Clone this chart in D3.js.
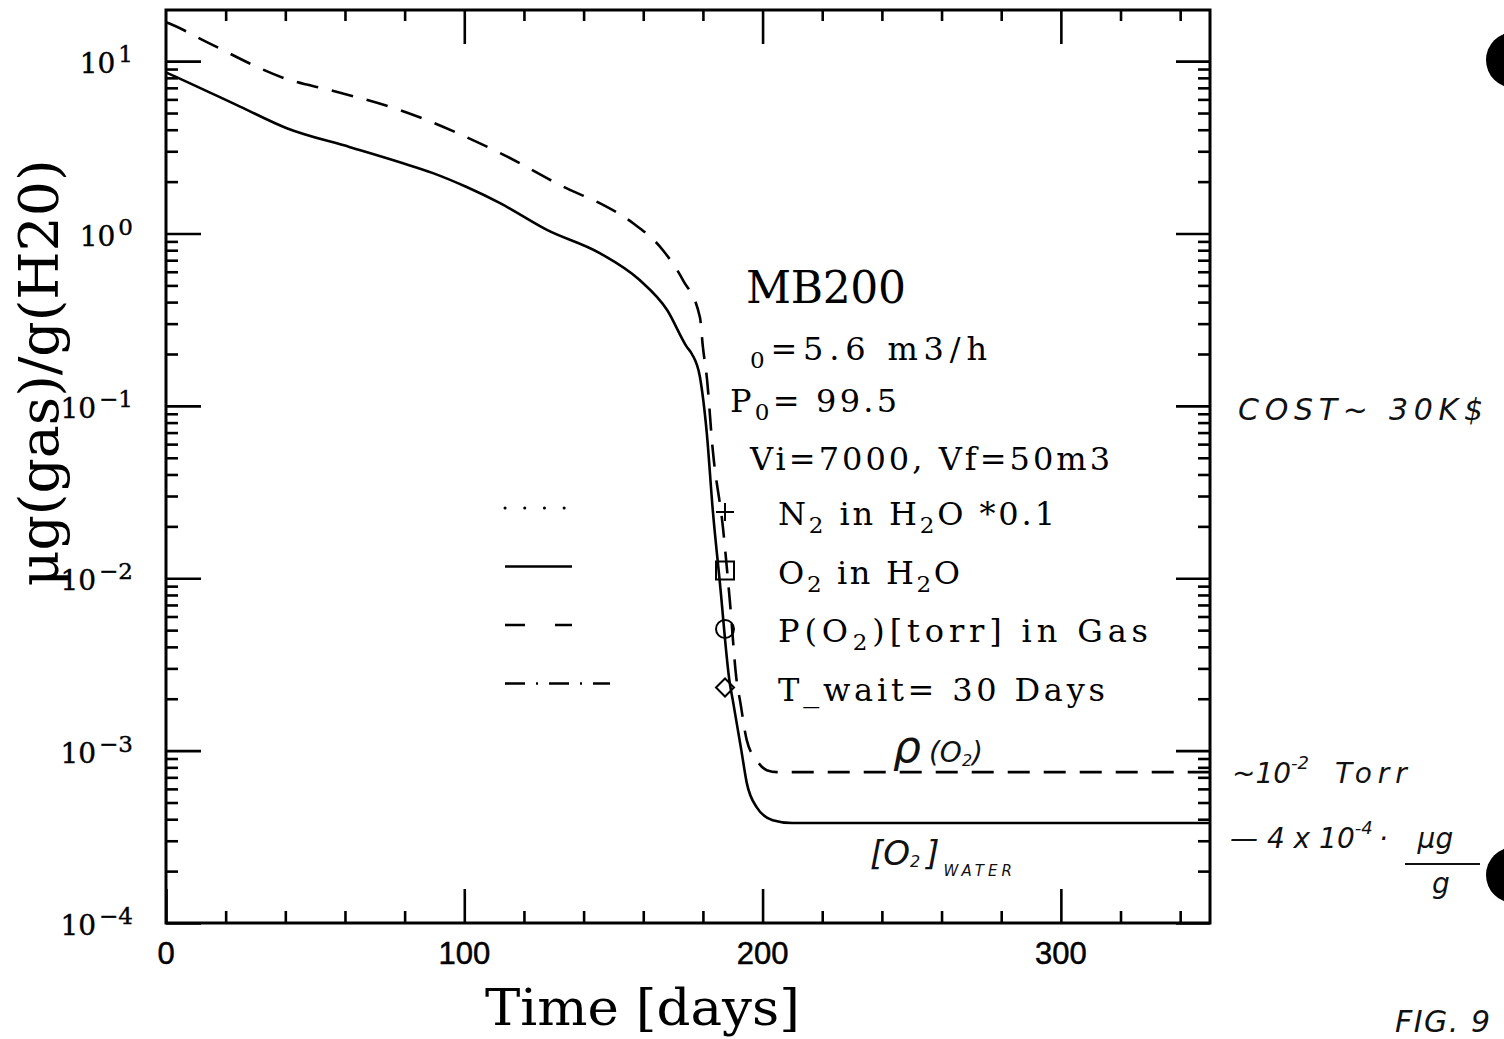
<!DOCTYPE html>
<html>
<head>
<meta charset="utf-8">
<script src="https://cdn.jsdelivr.net/npm/d3@7"></script>
<style>
  body { margin: 0; background: #fff; }
  svg { display: block; }
</style>
</head>
<body>
<svg id="chart" width="1504" height="1039"></svg>
<script>
// ---- data ----
const o2Days = [0, 2, 24.8, 40.5, 61.7, 78.4, 89.5, 100.8, 112, 127.7, 145.4, 158.8, 168, 174.6, 176.3, 179, 181.3, 183.3, 185.7, 189, 190, 192.9, 194.7, 198, 203.4, 210, 350];
const o2Water = [8.6, 8.3, 5.45, 4.08, 3.17, 2.59, 2.24, 1.86, 1.50, 1.05, 0.77, 0.537, 0.36, 0.22, 0.20, 0.147, 0.0695, 0.0249, 0.00938, 0.00247, 0.00197, 0.0010, 0.00065, 0.00047, 0.000395, 0.00038, 0.00038];

const gasDays = [0, 2.3, 13.7, 41.6, 55, 78.4, 112, 135.4, 145.4, 156.5, 166.6, 173.3, 179, 180, 181.3, 183.3, 186.7, 189, 191.4, 192.4, 194.7, 198, 201.4, 205, 350];
const gasPressure = [16.8, 16.2, 12.9, 7.76, 6.79, 5.2, 2.93, 1.79, 1.50, 1.15, 0.80, 0.537, 0.327, 0.219, 0.147, 0.0555, 0.0198, 0.00748, 0.00247, 0.00197, 0.00115, 0.00088, 0.00077, 0.00075, 0.00075];

const xTickValues = [0, 100, 200, 300];
const xTickLabels = ["0", "100", "200", "300"];
const yTickValues = [1e1, 1e0, 1e-1, 1e-2, 1e-3, 1e-4];
const yTickExponents = ["1", "0", "\u22121", "\u22122", "\u22123", "\u22124"];

// {..} marks a subscript
const infoLines = ["MB200", "{0}=5.6 m3/h", "P{0}= 99.5", "Vi=7000, Vf=50m3"];
const legendLabels = ["N{2} in H{2}O *0.1", "O{2} in H{2}O", " P(O{2})[torr] in Gas", "T_wait= 30 Days"];
const legendDashes = ["0.1,19.6", "none", "20,30", "20,11,2,11"];
const legendMarkers = ["plus", "square", "circle", "diamond"];

const W = 1504, H = 1039;
const M = { left: 166, right: 1210, top: 10, bottom: 923 };
const SERIF = "'DejaVu Serif', serif";
const HAND = "'DejaVu Sans', sans-serif";

const svg = d3.select("#chart");

const x = d3.scaleLinear().domain([0, 350]).range([M.left, M.right]);
const y = d3.scaleLog().domain([1e-4, 19.8]).range([M.bottom, M.top]);

// ---- ticks (inward, on all four sides) ----
const xMinor = d3.range(20, 350, 20).filter(d => d % 100 !== 0);
const yMinor = d3.range(-4, 1).flatMap(e => d3.range(2, 10).map(k => k * Math.pow(10, e)));

function drawTicks(axis, tr) {
	const g = svg.append("g").attr("transform", tr).call(axis);
	g.select(".domain").remove();
	g.selectAll("text").remove();
	g.selectAll("line").attr("stroke", "#000").attr("stroke-width", 2.6);
}

drawTicks(d3.axisBottom(x).tickValues(xTickValues).tickSize(-34), `translate(0,${M.bottom})`);
drawTicks(d3.axisBottom(x).tickValues(xMinor).tickSize(-12), `translate(0,${M.bottom})`);
drawTicks(d3.axisTop(x).tickValues(xTickValues.slice(1)).tickSize(-34), `translate(0,${M.top})`);
drawTicks(d3.axisTop(x).tickValues(xMinor).tickSize(-11), `translate(0,${M.top})`);
drawTicks(d3.axisLeft(y).tickValues(yTickValues).tickSize(-35), `translate(${M.left},0)`);
drawTicks(d3.axisLeft(y).tickValues(yMinor).tickSize(-12), `translate(${M.left},0)`);
drawTicks(d3.axisRight(y).tickValues(yTickValues).tickSize(-34), `translate(${M.right},0)`);
drawTicks(d3.axisRight(y).tickValues(yMinor).tickSize(-12), `translate(${M.right},0)`);

// frame
svg.append("rect")
	.attr("x", M.left).attr("y", M.top)
	.attr("width", M.right - M.left).attr("height", M.bottom - M.top)
	.attr("fill", "none").attr("stroke", "#000").attr("stroke-width", 3);

// ---- tick labels ----
svg.append("g").selectAll("text")
	.data(xTickValues)
	.join("text")
	.attr("x", d => x(d))
	.attr("y", 964)
	.attr("text-anchor", "middle")
	.attr("font-family", "'Liberation Sans', Arial, sans-serif")
	.attr("font-size", 31)
	.attr("stroke", "#000").attr("stroke-width", 0.5)
	.text((d, i) => xTickLabels[i]);

const yLab = svg.append("g").selectAll("text")
	.data(yTickValues)
	.join("text")
	.attr("x", 133)
	.attr("y", d => y(d) + 12)
	.attr("text-anchor", "end")
	.attr("font-family", SERIF)
	.attr("font-size", 28)
	.attr("stroke", "#000").attr("stroke-width", 0.4);
yLab.append("tspan").text("10");
yLab.append("tspan")
	.attr("dx", 3).attr("dy", -11)
	.attr("font-size", 23)
	.text((d, i) => yTickExponents[i]);

// axis titles
svg.append("text")
	.attr("transform", "translate(58,373) rotate(-90)")
	.attr("text-anchor", "middle")
	.attr("font-family", SERIF)
	.attr("font-size", 54)
	.attr("textLength", 427).attr("lengthAdjust", "spacingAndGlyphs")
	.text("\u03bcg(gas)/g(H20)");

svg.append("text")
	.attr("x", 485).attr("y", 1025)
	.attr("font-family", SERIF)
	.attr("font-size", 50)
	.attr("textLength", 315).attr("lengthAdjust", "spacingAndGlyphs")
	.text("Time [days]");

// ---- curves ----
const line = d3.line()
	.x(d => x(d[0]))
	.y(d => y(d[1]))
	.curve(d3.curveMonotoneX);

svg.append("path")
	.datum(d3.zip(o2Days, o2Water))
	.attr("d", line)
	.attr("fill", "none").attr("stroke", "#000").attr("stroke-width", 2.6);

svg.append("path")
	.datum(d3.zip(gasDays, gasPressure))
	.attr("d", line)
	.attr("fill", "none").attr("stroke", "#000").attr("stroke-width", 2.6)
	.attr("stroke-dasharray", "22,14");

// ---- text with {sub} markup ----
function richText(g, str, px, py, size, width) {
	const t = g.append("text")
		.attr("x", px).attr("y", py)
		.attr("font-family", SERIF)
		.attr("font-size", size);
	if (width) t.attr("textLength", width).attr("lengthAdjust", "spacing");
	const parts = str.split(/(\{[^}]*\})/).filter(s => s.length);
	let down = false;
	parts.forEach(p => {
		if (p[0] === "{") {
			t.append("tspan").attr("dy", down ? 0 : 8).attr("font-size", size * 0.72).text(p.slice(1, -1));
			down = true;
		} else {
			t.append("tspan").attr("dy", down ? -8 : 0).text(p);
			down = false;
		}
	});
	return t;
}

const info = svg.append("g");
const infoPos = [[746, 303, 44, 160], [750, 360, 32, 237], [730, 412, 32, 167], [750, 470, 32, 360]];
infoLines.forEach((s, i) => richText(info, s, ...infoPos[i]));

// ---- legend ----
const legend = svg.append("g");
const legendWidths = [277, 182, 370, 327];
legendLabels.forEach((s, i) => {
	const yc = 510 + 58.5 * i;
	legend.append("line")
		.attr("x1", 505).attr("x2", i === 3 ? 610 : 572)
		.attr("y1", yc - 2).attr("y2", yc - 2)
		.attr("stroke", "#000").attr("stroke-width", i === 0 ? 3 : 2.6)
		.attr("stroke-linecap", i === 0 ? "round" : "butt")
		.attr("stroke-dasharray", legendDashes[i]);

	const mx = 725, my = yc + 2, r = 9;
	const p = d3.path();
	if (legendMarkers[i] === "plus") {
		p.moveTo(mx - r, my); p.lineTo(mx + r, my);
		p.moveTo(mx, my - r); p.lineTo(mx, my + r);
	} else if (legendMarkers[i] === "square") {
		p.rect(mx - r, my - r, 2 * r, 2 * r);
	} else if (legendMarkers[i] === "circle") {
		p.arc(mx, my, r, 0, 2 * Math.PI);
	} else {
		p.moveTo(mx - r, my); p.lineTo(mx, my - r); p.lineTo(mx + r, my); p.lineTo(mx, my + r); p.closePath();
	}
	legend.append("path").attr("d", p.toString())
		.attr("fill", "none").attr("stroke", "#000").attr("stroke-width", 2);

	richText(legend, s, 778, yc + 15, 32, legendWidths[i]);
});

// ---- handwritten notes ----
const notes = svg.append("g")
	.attr("font-family", HAND)
	.attr("font-style", "italic")
	.attr("font-weight", 200)
	.attr("fill", "#111");

notes.append("text").attr("x", 1238).attr("y", 420).attr("font-size", 30)
	.attr("textLength", 245).attr("lengthAdjust", "spacing").text("COST~ 30K$");

const rho = notes.append("text").attr("x", 893).attr("y", 762).attr("font-size", 44);
rho.append("tspan").text("\u03c1");
rho.append("tspan").attr("dx", 8).attr("font-size", 28).text("(O");
rho.append("tspan").attr("font-size", 16).attr("dy", 4).text("2");
rho.append("tspan").attr("font-size", 28).attr("dy", -4).text(")");

const wat = notes.append("text").attr("x", 870).attr("y", 865).attr("font-size", 34);
wat.append("tspan").text("[O");
wat.append("tspan").attr("font-size", 16).attr("dy", 2).text("2");
wat.append("tspan").attr("dy", -2).attr("dx", 6).text("]");
wat.append("tspan").attr("font-size", 15).attr("dy", 11).attr("dx", 4)
	.attr("letter-spacing", 4).text("WATER");

const torr = notes.append("text").attr("x", 1232).attr("y", 783).attr("font-size", 28);
torr.append("tspan").text("~10");
torr.append("tspan").attr("font-size", 18).attr("dy", -14).text("-2");
torr.append("tspan").attr("dy", 14).attr("dx", 26).attr("letter-spacing", 6).text("Torr");

const ug = notes.append("text").attr("x", 1230).attr("y", 848).attr("font-size", 28);
ug.append("tspan").text("\u2014 4 x 10");
ug.append("tspan").attr("font-size", 18).attr("dy", -14).text("-4");
ug.append("tspan").attr("dy", 14).attr("dx", 6).text("\u00b7");
ug.append("tspan").attr("dx", 30).text("\u03bcg");
notes.append("line").attr("x1", 1405).attr("x2", 1480).attr("y1", 864).attr("y2", 864)
	.attr("stroke", "#111").attr("stroke-width", 2);
notes.append("text").attr("x", 1432).attr("y", 893).attr("font-size", 28).text("g");

notes.append("text").attr("x", 1395).attr("y", 1032).attr("font-size", 30)
	.attr("textLength", 95).attr("lengthAdjust", "spacing").text("FIG. 9");

// punch holes at the right edge of the sheet
svg.append("g").selectAll("circle")
	.data([60, 875])
	.join("circle")
	.attr("cx", 1514).attr("cy", d => d).attr("r", 28)
	.attr("fill", "#000");
</script>
</body>
</html>
